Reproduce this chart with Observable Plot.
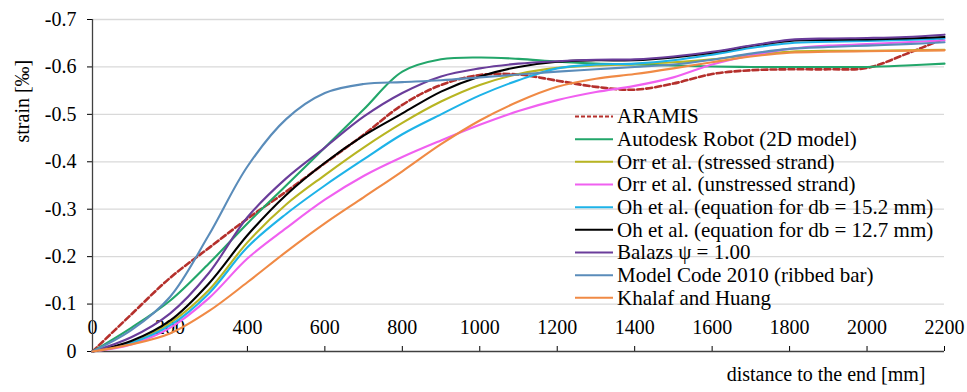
<!DOCTYPE html>
<html>
<head>
<meta charset="utf-8">
<script src="https://cdn.jsdelivr.net/npm/d3@7"></script>
<script src="https://cdn.jsdelivr.net/npm/@observablehq/plot@0.6"></script>
<style>
  body { margin: 0; background: #fff; }
  #chart svg { display: block; }
</style>
</head>
<body>
<div id="chart"></div>
<script>
// ---- data (strain in ‰ vs distance to the end in mm) ----
const distance = [0, 100, 200, 300, 400, 500, 600, 700, 800, 900, 1000, 1100, 1200, 1300, 1400, 1500, 1600, 1700, 1800, 1900, 2000, 2100, 2200];

const aramis      = [0, -0.078, -0.155, -0.218, -0.28, -0.337, -0.397, -0.457, -0.52, -0.562, -0.583, -0.584, -0.571, -0.558, -0.552, -0.565, -0.585, -0.593, -0.595, -0.595, -0.598, -0.627, -0.66];
const autodesk    = [0, -0.05, -0.107, -0.185, -0.27, -0.35, -0.43, -0.51, -0.59, -0.616, -0.62, -0.617, -0.611, -0.607, -0.605, -0.603, -0.601, -0.6, -0.6, -0.6, -0.6, -0.603, -0.607];
const orrStressed = [0, -0.018, -0.06, -0.129, -0.23, -0.31, -0.372, -0.43, -0.482, -0.527, -0.562, -0.585, -0.598, -0.603, -0.606, -0.61, -0.616, -0.625, -0.632, -0.634, -0.634, -0.635, -0.636];
const orrUnstressed = [0, -0.015, -0.05, -0.112, -0.196, -0.26, -0.32, -0.37, -0.41, -0.445, -0.478, -0.507, -0.53, -0.547, -0.56, -0.578, -0.605, -0.624, -0.638, -0.645, -0.648, -0.652, -0.656];
const oh152       = [0, -0.018, -0.055, -0.122, -0.22, -0.29, -0.35, -0.405, -0.458, -0.5, -0.54, -0.572, -0.597, -0.605, -0.607, -0.614, -0.626, -0.64, -0.65, -0.653, -0.655, -0.657, -0.66];
const oh127       = [0, -0.022, -0.065, -0.143, -0.245, -0.33, -0.398, -0.455, -0.502, -0.548, -0.58, -0.6, -0.611, -0.614, -0.614, -0.62, -0.63, -0.644, -0.655, -0.657, -0.658, -0.66, -0.663];
const balazs      = [0, -0.03, -0.08, -0.165, -0.283, -0.365, -0.43, -0.495, -0.545, -0.58, -0.597, -0.607, -0.612, -0.615, -0.616, -0.622, -0.632, -0.645, -0.657, -0.66, -0.661, -0.663, -0.668];
const modelCode   = [0, -0.045, -0.115, -0.245, -0.39, -0.49, -0.545, -0.564, -0.568, -0.572, -0.578, -0.584, -0.59, -0.595, -0.6, -0.605, -0.615, -0.628, -0.638, -0.642, -0.645, -0.648, -0.652];
const khalaf      = [0, -0.015, -0.038, -0.085, -0.146, -0.21, -0.27, -0.325, -0.38, -0.437, -0.487, -0.527, -0.558, -0.575, -0.585, -0.597, -0.61, -0.622, -0.63, -0.632, -0.633, -0.634, -0.635];

const seriesNames = [
  "ARAMIS",
  "Autodesk Robot (2D model)",
  "Orr et al. (stressed strand)",
  "Orr et al. (unstressed strand)",
  "Oh et al. (equation for db = 15.2 mm)",
  "Oh et al. (equation for db = 12.7 mm)",
  "Balazs ψ = 1.00",
  "Model Code 2010 (ribbed bar)",
  "Khalaf and Huang"
];
const seriesValues = [aramis, autodesk, orrStressed, orrUnstressed, oh152, oh127, balazs, modelCode, khalaf];

const xTicks = [0, 200, 400, 600, 800, 1000, 1200, 1400, 1600, 1800, 2000, 2200];
const yTicks = [0, -0.1, -0.2, -0.3, -0.4, -0.5, -0.6, -0.7];
const xLabel = "distance to the end [mm]";
const yLabel = "strain [‰]";

// ---- styles ----
const seriesColors = ["#b5302c", "#22a66a", "#b8b522", "#f060f0", "#1eb3e8", "#000000", "#6a3d9a", "#5a8cba", "#f08a45"];
const FONT = "'Liberation Serif', 'Times New Roman', serif";

const rows = seriesNames.flatMap((name, i) =>
  distance.map((d, j) => ({ name, distance: d, strain: seriesValues[i][j] }))
);

// legend drawn inside the plot frame
const legend = () => {
  const g = d3.create("svg:g")
    .attr("font-family", FONT).attr("font-size", 21).attr("fill", "#000")
    .attr("text-anchor", "start");
  seriesNames.forEach((name, i) => {
    const y = 116.5 + i * 22.67;
    g.append("line")
      .attr("x1", 575).attr("x2", 613).attr("y1", y).attr("y2", y)
      .attr("stroke", seriesColors[i])
      .attr("stroke-width", i === 0 ? 2.2 : 2)
      .attr("stroke-dasharray", i === 0 ? "4,2" : null);
    g.append("text").attr("x", 617).attr("y", y).attr("dy", "0.33em").text(name);
  });
  return g.node();
};

const chart = Plot.plot({
  width: 967,
  height: 392,
  marginLeft: 92,
  marginRight: 23,
  marginTop: 19,
  marginBottom: 41,
  style: { fontFamily: FONT, fontSize: "20px", background: "#fff", color: "#000" },
  x: { domain: [0, 2200], axis: null },
  y: { domain: [0, -0.7] },
  color: { domain: seriesNames, range: seriesColors },
  marks: [
    Plot.gridY(yTicks.filter(v => v !== 0), { stroke: "#d9d9d9", strokeOpacity: 1, strokeWidth: 1.3 }),
    Plot.axisY({ ticks: yTicks, tickSize: 5, tickPadding: 11, label: null, fontSize: 20,
      tickFormat: v => (v === 0 ? "0" : v.toFixed(1)) }),
    Plot.axisX({ ticks: xTicks, tickSize: 5, dy: -5, tickFormat: () => "", label: null }),
    Plot.text(xTicks, { x: d => d, y: () => 0, dy: -24, text: d => String(d), fontSize: 20, fill: "#000" }),
    Plot.ruleX([0], { stroke: "#404040", strokeWidth: 1.3 }),
    Plot.ruleY([0], { stroke: "#404040", strokeWidth: 1.3 }),
    Plot.line(rows.filter(d => d.name === "ARAMIS"), {
      x: "distance", y: "strain", stroke: "name", strokeWidth: 2.6, strokeDasharray: "6,3", curve: "catmull-rom"
    }),
    Plot.line(rows.filter(d => d.name !== "ARAMIS"), {
      x: "distance", y: "strain", z: "name", stroke: "name", strokeWidth: 2.1, curve: "catmull-rom"
    }),
    Plot.text([yLabel], { frameAnchor: "left", rotate: -90, dx: -70, dy: -43, fontSize: 20, fill: "#000" }),
    Plot.text([xLabel], { frameAnchor: "bottom-right", textAnchor: "end", dx: -19, dy: 29, fontSize: 20, fill: "#000" }),
    legend
  ]
});

document.getElementById("chart").appendChild(chart);
</script>
</body>
</html>
